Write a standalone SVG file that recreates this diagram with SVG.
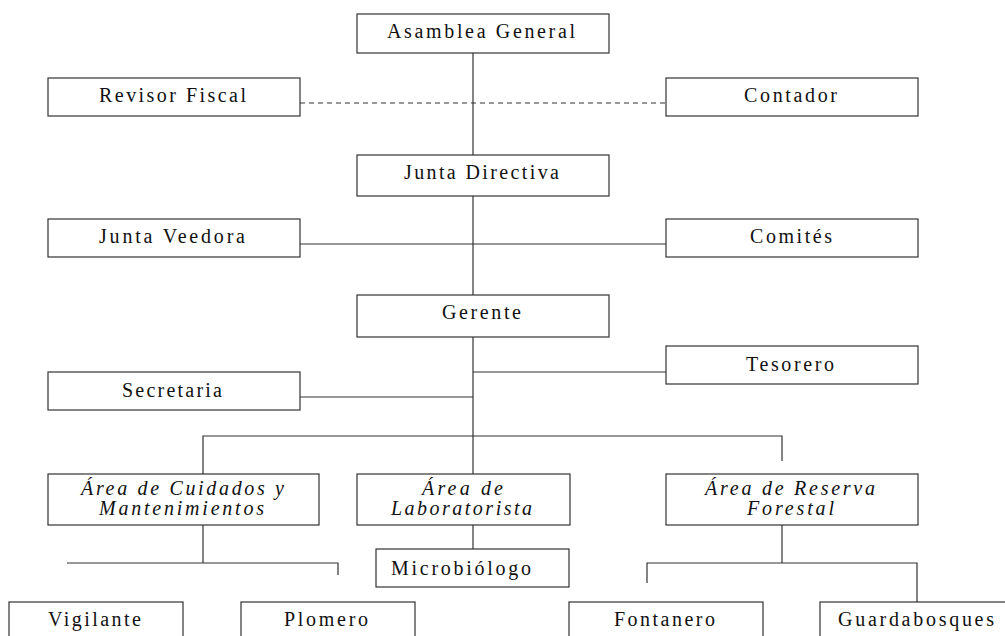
<svg xmlns="http://www.w3.org/2000/svg" width="1005" height="636" viewBox="0 0 1005 636">
<style>
rect{fill:#fff;stroke:#333;stroke-width:1.2}
text{font-family:"Liberation Serif","Times New Roman",serif;font-size:20px;fill:#111}
.i{font-style:italic}
.c line,.c polyline{stroke:#333;stroke-width:1.2;fill:none}
.d{stroke-dasharray:5,4}
</style>
<rect x="0" y="0" width="1005" height="636" style="stroke:none"/>
<g class="c" id="connectors">
<line x1="473" y1="53" x2="473" y2="155"/>
<line class="d" x1="300" y1="103" x2="666" y2="103"/>
<line x1="473" y1="193" x2="473" y2="295"/>
<line x1="300" y1="244" x2="666" y2="244"/>
<line x1="473" y1="333" x2="473" y2="474"/>
<line x1="473" y1="372" x2="666" y2="372"/>
<line x1="300" y1="397" x2="473" y2="397"/>
<polyline points="203,474 203,436 782,436 782,461"/>
<line x1="203" y1="525" x2="203" y2="563"/>
<polyline points="67,563 338,563 338,575"/>
<line x1="473" y1="525" x2="473" y2="549"/>
<line x1="782" y1="525" x2="782" y2="563"/>
<polyline points="647,583 647,563 917,563 917,602"/>
</g>
<g id="asamblea"><rect x="357" y="14" width="252" height="39"/><text x="387" y="38" textLength="188" lengthAdjust="spacing">Asamblea General</text></g>
<g id="revisor"><rect x="48" y="78" width="252" height="38"/><text x="99" y="102" textLength="147" lengthAdjust="spacing">Revisor Fiscal</text></g>
<g id="contador"><rect x="666" y="78" width="252" height="38"/><text x="744" y="102" textLength="93" lengthAdjust="spacing">Contador</text></g>
<g id="junta-directiva"><rect x="357" y="155" width="252" height="41"/><text x="404" y="179" textLength="155" lengthAdjust="spacing">Junta Directiva</text></g>
<g id="junta-veedora"><rect x="48" y="219" width="252" height="38"/><text x="99" y="243" textLength="146" lengthAdjust="spacing">Junta Veedora</text></g>
<g id="comites"><rect x="666" y="219" width="252" height="38"/><text x="750" y="243" textLength="82" lengthAdjust="spacing">Comités</text></g>
<g id="gerente"><rect x="357" y="295" width="252" height="42"/><text x="442" y="319" textLength="79" lengthAdjust="spacing">Gerente</text></g>
<g id="tesorero"><rect x="666" y="346" width="252" height="38"/><text x="746" y="371" textLength="88" lengthAdjust="spacing">Tesorero</text></g>
<g id="secretaria"><rect x="48" y="372" width="252" height="38"/><text x="122" y="397" textLength="100" lengthAdjust="spacing">Secretaria</text></g>
<g id="area-cuidados"><rect x="48" y="474" width="271" height="51"/><text class="i" x="81" y="495" textLength="203" lengthAdjust="spacing">Área de Cuidados y</text><text class="i" x="99" y="515" textLength="165" lengthAdjust="spacing">Mantenimientos</text></g>
<g id="area-laboratorista"><rect x="357" y="474" width="213" height="51"/><text class="i" x="422" y="495" textLength="81" lengthAdjust="spacing">Área de</text><text class="i" x="391" y="515" textLength="141" lengthAdjust="spacing">Laboratorista</text></g>
<g id="area-reserva"><rect x="666" y="474" width="252" height="51"/><text class="i" x="705" y="495" textLength="170" lengthAdjust="spacing">Área de Reserva</text><text class="i" x="747" y="515" textLength="87" lengthAdjust="spacing">Forestal</text></g>
<g id="microbiologo"><rect x="376" y="549" width="193" height="38"/><text x="391" y="575" textLength="140" lengthAdjust="spacing">Microbiólogo</text></g>
<g id="vigilante"><rect x="9" y="602" width="174" height="40"/><text x="48" y="626" textLength="93" lengthAdjust="spacing">Vigilante</text></g>
<g id="plomero"><rect x="241" y="602" width="174" height="40"/><text x="284" y="626" textLength="84" lengthAdjust="spacing">Plomero</text></g>
<g id="fontanero"><rect x="569" y="602" width="194" height="40"/><text x="614" y="626" textLength="101" lengthAdjust="spacing">Fontanero</text></g>
<g id="guardabosques"><rect x="820" y="602" width="200" height="40"/><text x="838" y="626" textLength="156" lengthAdjust="spacing">Guardabosques</text></g>
</svg>
